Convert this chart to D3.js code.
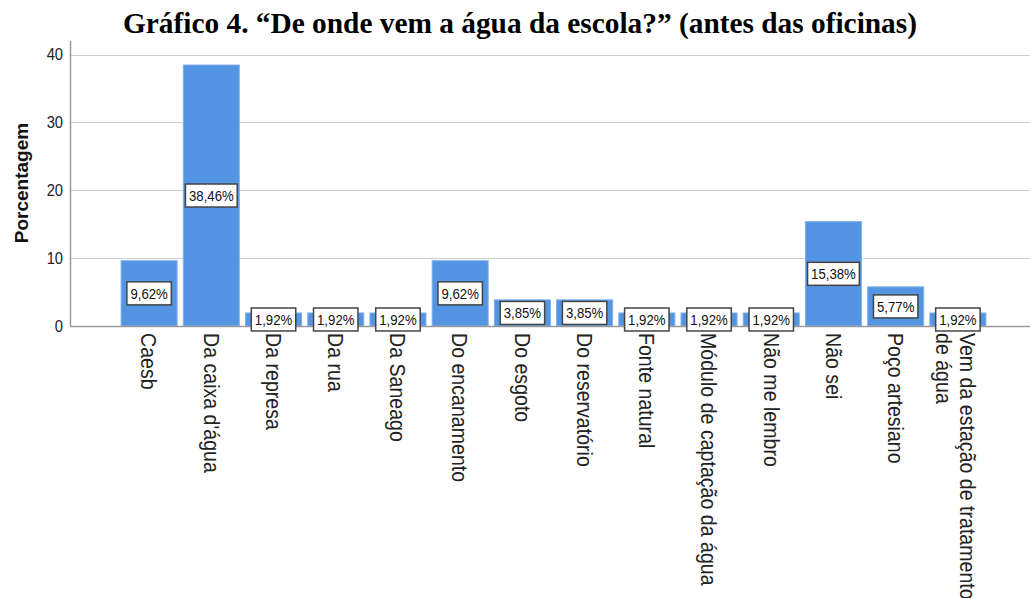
<!DOCTYPE html>
<html>
<head>
<meta charset="utf-8">
<script src="https://cdn.jsdelivr.net/npm/d3@7"></script>
<style>
  body { margin: 0; background: #fff; }
  svg { display: block; }
</style>
</head>
<body>
<svg id="chart" width="1030" height="598"></svg>
<script>
// data
var categories = ['Caesb', "Da caixa d'água", 'Da represa', 'Da rua', 'Da Saneago', 'Do encanamento',
  'Do esgoto', 'Do reservatório', 'Fonte natural', 'Módulo de captação da água', 'Não me lembro',
  'Não sei', 'Poço artesiano', 'Vem da estação de tratamento de água']
var percentages = [9.62, 38.46, 1.92, 1.92, 1.92, 9.62, 3.85, 3.85, 1.92, 1.92, 1.92, 15.38, 5.77, 1.92]
var yTicks = [0, 10, 20, 30, 40]
var title = 'Gráfico 4. “De onde vem a água da escola?” (antes das oficinas)'

var width = 1030
var height = 598
var margin = { top: 41, right: 0, bottom: 272, left: 70 }
var y0 = height - margin.bottom // baseline of bars

var svg = d3.select('#chart')

// text in the picture is a bit narrower than the fonts we have
function squeeze(sel, k) {
  sel.each(function() {
    var len = this.getComputedTextLength()
    d3.select(this).attr('textLength', len * k).attr('lengthAdjust', 'spacingAndGlyphs')
  })
}

var xScale = d3.scaleBand()
  .domain(categories)
  .range([118, 989])
  .paddingInner(0.1)
  .paddingOuter(0.05)

var yScale = d3.scaleLinear()
  .domain([0, 42])
  .range([y0, margin.top])

// title
svg.append('text')
  .attr('x', 520)
  .attr('y', 33)
  .attr('text-anchor', 'middle')
  .style('font-family', '"Liberation Serif", "Times New Roman", serif')
  .style('font-weight', 'bold')
  .style('font-size', '30px')
  .attr('textLength', 794)
  .attr('lengthAdjust', 'spacingAndGlyphs')
  .text(title)

// gridlines
svg.append('g')
  .selectAll('line')
  .data(yTicks.filter(d => d > 0))
  .join('line')
  .attr('x1', margin.left + 1)
  .attr('x2', width)
  .attr('y1', d => Math.round(yScale(d)) + 0.5)
  .attr('y2', d => Math.round(yScale(d)) + 0.5)
  .attr('stroke', '#cfcfcf')
  .attr('stroke-width', 1.2)

// y tick labels
svg.append('g')
  .selectAll('text')
  .data(yTicks)
  .join('text')
  .attr('x', 63)
  .attr('y', d => yScale(d))
  .attr('dy', '0.36em')
  .attr('text-anchor', 'end')
  .style('font-family', '"Liberation Sans", Arial, sans-serif')
  .style('font-size', '16px')
  .style('fill', '#222')
  .text(d => d)
  .call(squeeze, 0.92)

// y axis title
svg.append('text')
  .attr('transform', 'translate(21.5,183) rotate(-90)')
  .attr('dy', '0.35em')
  .attr('text-anchor', 'middle')
  .style('font-family', '"Liberation Sans", Arial, sans-serif')
  .style('font-weight', 'bold')
  .style('font-size', '19px')
  .style('fill', '#111')
  .text('Porcentagem')

// bars
svg.append('g')
  .selectAll('rect')
  .data(categories)
  .join('rect')
  .attr('x', d => xScale(d))
  .attr('y', (d, i) => yScale(percentages[i]))
  .attr('width', xScale.bandwidth())
  .attr('height', (d, i) => y0 - yScale(percentages[i]))
  .attr('fill', '#5394e3')
  .attr('stroke', '#7fb0ec')
  .attr('stroke-width', 1)

// axes lines
svg.append('line')
  .attr('x1', margin.left + 0.5).attr('x2', margin.left + 0.5)
  .attr('y1', margin.top).attr('y2', y0)
  .attr('stroke', '#9a9a9a').attr('stroke-width', 1.5)
svg.append('line')
  .attr('x1', margin.left).attr('x2', width)
  .attr('y1', y0 + 0.5).attr('y2', y0 + 0.5)
  .attr('stroke', '#9a9a9a').attr('stroke-width', 1.5)

// value labels in boxes, centred on each bar
var labels = svg.append('g')
  .selectAll('g')
  .data(categories)
  .join('g')
  .attr('transform', (d, i) => 'translate(' + (xScale(d) + xScale.bandwidth() / 2) + ',' +
    ((yScale(percentages[i]) + y0) / 2) + ')')

labels.append('rect')
labels.append('text')
  .attr('text-anchor', 'middle')
  .attr('dy', '0.36em')
  .style('font-family', '"Liberation Sans", Arial, sans-serif')
  .style('font-size', '15px')
  .style('fill', '#111')
  .text((d, i) => d3.format('.2f')(percentages[i]).replace('.', ',') + '%')
  .call(squeeze, 0.88)

labels.each(function() {
  var g = d3.select(this)
  var w = +g.select('text').attr('textLength')
  g.select('rect')
    .attr('x', -w / 2 - 3.5)
    .attr('y', -11.5)
    .attr('width', w + 7)
    .attr('height', 23)
    .attr('fill', '#fff')
    .attr('stroke', '#444')
    .attr('stroke-width', 1.5)
})

// category labels, rotated to read top-down, wrapped if too long
var fontSize = 22
var k = 0.89
var maxLen = 280

var catLabels = svg.append('g')
  .selectAll('text')
  .data(categories)
  .join('text')
  .attr('transform', d => 'translate(' + (xScale(d) + xScale.bandwidth() / 2) + ',' + (y0 + 7) + ') rotate(90)')
  .style('font-family', '"Liberation Sans", Arial, sans-serif')
  .style('font-size', fontSize + 'px')
  .style('fill', '#222')

catLabels.each(function(d) {
  var text = d3.select(this)
  var words = d.split(' ')
  var lines = []
  var line = []
  var probe = text.append('tspan')
  words.forEach(function(word) {
    line.push(word)
    probe.text(line.join(' '))
    if (probe.node().getComputedTextLength() * k > maxLen && line.length > 1) {
      line.pop()
      lines.push(line.join(' '))
      line = [word]
    }
  })
  lines.push(line.join(' '))
  probe.remove()
  var lh = 1.05
  lines.forEach(function(l, i) {
    var dy = i === 0 ? (0.35 - (lines.length - 1) * lh / 2 + 0.1 * (lines.length - 1)) : lh
    text.append('tspan')
      .attr('x', 0)
      .attr('dy', dy + 'em')
      .text(l)
  })
  text.selectAll('tspan').call(squeeze, k)
})
</script>
</body>
</html>
